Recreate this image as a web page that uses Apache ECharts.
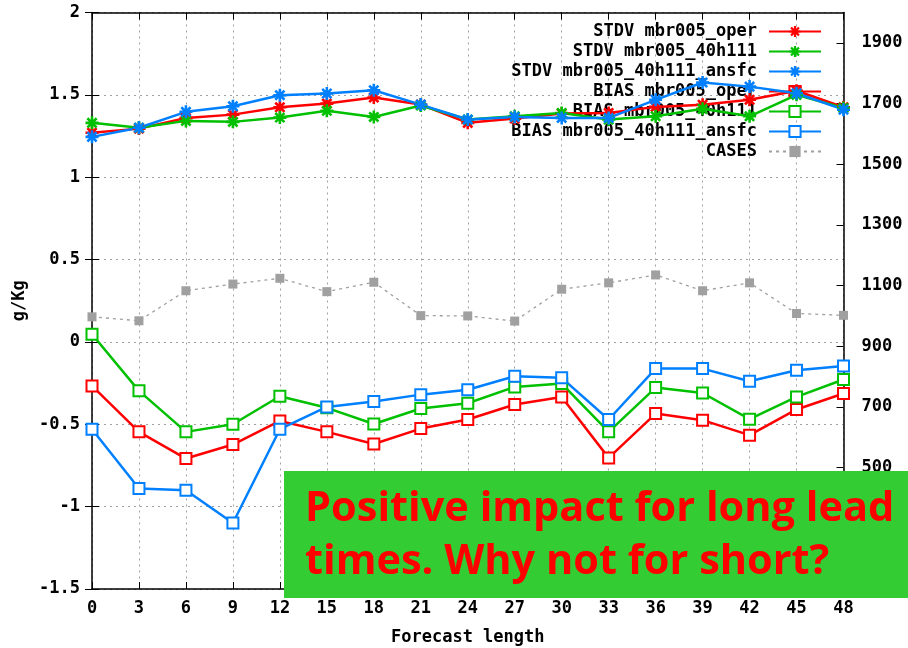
<!DOCTYPE html>
<html><head><meta charset="utf-8">
<script src="https://cdn.jsdelivr.net/npm/echarts@6/dist/echarts.min.js"></script>
<style>html,body{margin:0;padding:0;background:#fff}#c{width:908px;height:648px}</style>
</head><body><div id="c"></div>
<script>
// ---- data ----
const forecastHours = [0,3,6,9,12,15,18,21,24,27,30,33,36,39,42,45,48];
const stdvOper  = [1.27,1.295,1.36,1.38,1.425,1.447,1.484,1.441,1.33,1.356,1.387,1.39,1.427,1.44,1.47,1.525,1.425];
const stdv40h   = [1.33,1.30,1.342,1.336,1.362,1.403,1.366,1.435,1.35,1.37,1.39,1.35,1.37,1.415,1.37,1.50,1.42];
const stdvAnsfc = [1.245,1.30,1.397,1.431,1.498,1.508,1.528,1.441,1.35,1.366,1.36,1.36,1.47,1.575,1.55,1.51,1.41];
const biasOper  = [-0.267,-0.546,-0.708,-0.623,-0.48,-0.546,-0.62,-0.526,-0.471,-0.38,-0.334,-0.704,-0.435,-0.475,-0.566,-0.41,-0.313];
const bias40h   = [0.047,-0.297,-0.546,-0.5,-0.33,-0.40,-0.498,-0.404,-0.372,-0.273,-0.253,-0.546,-0.277,-0.31,-0.469,-0.334,-0.228];
const biasAnsfc = [-0.53,-0.89,-0.90,-1.099,-0.53,-0.395,-0.362,-0.32,-0.29,-0.208,-0.218,-0.471,-0.162,-0.162,-0.239,-0.172,-0.146];
const cases     = [997,984,1083,1105,1124,1080,1111,1001,1000,983,1088,1109,1135,1083,1109,1008,1002];
const seriesNames = ['STDV mbr005_oper','STDV mbr005_40h111','STDV mbr005_40h111_ansfc',
                     'BIAS mbr005_oper','BIAS mbr005_40h111','BIAS mbr005_40h111_ansfc','CASES'];
const noteLines = ['Positive impact for long lead','times. Why not for short?'];

// ---- chart ----
const chart = echarts.init(document.getElementById('c'), null, {renderer:'canvas'});
const FONT = 'DejaVu Sans Mono';
const lab = {fontFamily: FONT, fontWeight: 'bold', fontSize: 17, color: '#000'};
const RED = '#ff0000', GREEN = '#00c000', BLUE = '#0080ff', GRAY = '#a0a0a0';
const STAR = 'path://M-1.2,-6 L1.2,-6 L1.2,-2.9 L3.4,-5.1 L5.1,-3.4 L2.9,-1.2 L6,-1.2 L6,1.2 L2.9,1.2 L5.1,3.4 L3.4,5.1 L1.2,2.9 L1.2,6 L-1.2,6 L-1.2,2.9 L-3.4,5.1 L-5.1,3.4 L-2.9,1.2 L-6,1.2 L-6,-1.2 L-2.9,-1.2 L-5.1,-3.4 L-3.4,-5.1 L-1.2,-2.9 Z';
function pairs(arr){ return forecastHours.map((x,i)=>[x,arr[i]]); }
function mk(name, arr, color, kind, yIndex){
  const s = {
    name, type:'line', data: pairs(arr), yAxisIndex: yIndex || 0,
    color, showSymbol:true, animation:false,
    lineStyle:{width:2.5, color},
    itemStyle:{color},
    emphasis:{disabled:true}
  };
  if (kind === 'star'){ s.symbol = STAR; s.symbolSize = 13; }
  else if (kind === 'square'){ s.symbol = 'emptyRect'; s.symbolSize = 11; s.itemStyle = {color, borderColor: color, borderWidth: 2}; }
  else { s.symbol = 'rect'; s.symbolSize = 9; s.lineStyle = {width:1.3, color, type:[3,4]}; }
  return s;
}

const option = {
  backgroundColor:'#fff',
  animation:false,
  grid:{left:92, right:64.5, top:12.5, bottom:59, outerBoundsMode:'none', containLabel:false},
  legend:{
    z:1, padding:0,
    orient:'vertical', right:86, top:23, align:'right',
    itemWidth:52, itemHeight:14, itemGap:3,
    textStyle:Object.assign({padding:[0,7,0,0]}, lab), data: seriesNames, selectedMode:false
  },
  xAxis:[{
    type:'value', min:0, max:48, interval:3, position:'bottom',
    name:'Forecast length', nameLocation:'middle', nameGap:40, nameTextStyle:lab,
    axisLine:{onZero:false, lineStyle:{color:'#000', width:1.5}},
    axisTick:{inside:true, length:7, lineStyle:{color:'#000'}},
    axisLabel:Object.assign({margin:11}, lab),
    splitLine:{show:true, lineStyle:{color:GRAY, type:[2,4], width:1}}
  },{
    type:'value', min:0, max:48, interval:3, position:'top',
    axisLine:{onZero:false, lineStyle:{color:'#000', width:1.5}},
    axisTick:{inside:true, length:7, lineStyle:{color:'#000'}},
    axisLabel:{show:false}, splitLine:{show:false}
  }],
  yAxis:[{
    type:'value', min:-1.5, max:2, interval:0.5, position:'left',
    name:'g/Kg', nameLocation:'middle', nameRotate:90, nameGap:62, nameTextStyle:lab,
    axisLine:{show:true, onZero:false, lineStyle:{color:'#000', width:1.5}},
    axisTick:{show:true, inside:true, length:7, lineStyle:{color:'#000'}},
    axisLabel:Object.assign({margin:12}, lab),
    splitLine:{show:true, lineStyle:{color:GRAY, type:[2,4], width:1}}
  },{
    type:'value', min:100, max:2000, interval:200, position:'right',
    axisLine:{show:true, onZero:false, lineStyle:{color:'#000', width:1.5}},
    axisTick:{show:true, inside:true, length:7, lineStyle:{color:'#000'}},
    axisLabel:Object.assign({margin:18, showMaxLabel:false,
      formatter:v => (v >= 2000 ? '' : String(v))}, lab),
    splitLine:{show:false}
  },{
    type:'value', min:-1.5, max:2, interval:0.5, position:'right',
    axisLine:{show:false},
    axisTick:{show:true, inside:true, length:7, lineStyle:{color:'#000'}},
    axisLabel:{show:false}, splitLine:{show:false}
  }],
  series:[
    mk(seriesNames[0], stdvOper, RED, 'star'),
    mk(seriesNames[1], stdv40h, GREEN, 'star'),
    mk(seriesNames[2], stdvAnsfc, BLUE, 'star'),
    mk(seriesNames[3], biasOper, RED, 'square'),
    mk(seriesNames[4], bias40h, GREEN, 'square'),
    mk(seriesNames[5], biasAnsfc, BLUE, 'square'),
    mk(seriesNames[6], cases, GRAY, 'cases', 1)
  ],
  graphic:[
    {type:'rect', z:1000, zlevel:1, shape:{x:284, y:471, width:624, height:127}, style:{fill:'#33cc33'}},
    {type:'text', z:1001, zlevel:1, x:305, y:509, style:{text:noteLines[0], fill:'#ff0000', font:'bold 41.5px "Open Sans"', verticalAlign:'middle'}},
    {type:'text', z:1001, zlevel:1, x:305, y:562, style:{text:noteLines[1], fill:'#ff0000', font:'bold 41.5px "Open Sans"', verticalAlign:'middle'}}
  ]
};
chart.setOption(option);
</script></body></html>
